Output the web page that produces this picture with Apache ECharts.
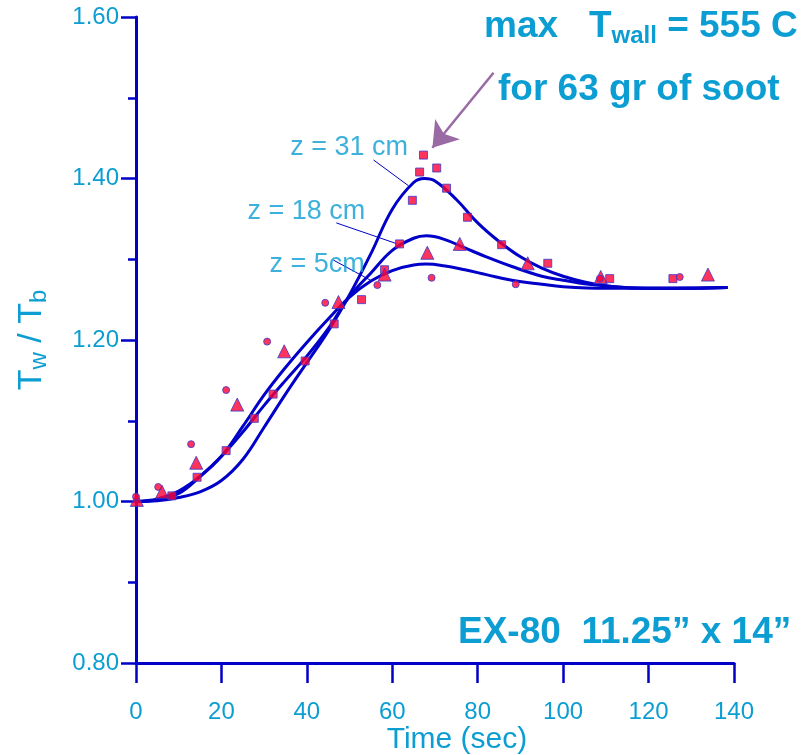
<!DOCTYPE html>
<html><head><meta charset="utf-8">
<script src="https://cdn.jsdelivr.net/npm/echarts@6/dist/echarts.min.js"></script>
<style>html,body{margin:0;padding:0;background:#fff}#c{width:812px;height:755px}</style>
</head><body><div id="c"></div>
<script>
// ---- data ----
const curve31 = [[0,1.000],[5,1.001],[10,1.005],[15,1.012],[20,1.026],[25,1.052],[30,1.092],[35,1.133],[40,1.172],[45,1.211],[50,1.256],[55,1.307],[60,1.362],[65,1.395],[67.5,1.400],[70,1.397],[75,1.374],[80,1.345],[85,1.322],[90,1.303],[95,1.289],[100,1.279],[105,1.272],[112,1.266],[120,1.264],[130,1.264],[138.5,1.265]];
const curve18 = [[0,1.000],[5,1.002],[10,1.010],[15,1.031],[20,1.056],[25,1.086],[30,1.119],[35,1.150],[40,1.180],[45,1.214],[50,1.254],[55,1.283],[60,1.311],[65,1.326],[68,1.329],[72,1.325],[77,1.314],[82,1.303],[88,1.291],[95,1.279],[100,1.274],[106,1.269],[112,1.266],[120,1.264],[130,1.264],[138.5,1.265]];
const curve5 = [[0,1.000],[5,1.003],[10,1.013],[15,1.031],[20,1.056],[25,1.093],[30,1.132],[35,1.166],[40,1.197],[45,1.226],[50,1.253],[55,1.273],[60,1.286],[65,1.293],[68,1.294],[72,1.292],[77,1.287],[82,1.281],[88,1.274],[95,1.269],[100,1.266],[110,1.264],[120,1.264],[138.5,1.265]];

const squareT = [8.4,14.3,21.1,27.7,32.1,39.6,46.4,52.8,58.2,61.7,64.7,66.4,67.3,70.4,72.7,77.6,85.6,96.4,110.9,125.7];
const squareV = [1.007,1.030,1.063,1.103,1.133,1.174,1.220,1.250,1.287,1.319,1.373,1.408,1.429,1.413,1.388,1.352,1.318,1.295,1.276,1.276];
const triangleT = [0.2,6.1,14.1,23.7,34.7,47.4,58.2,68.2,75.8,91.7,108.8,133.9];
const triangleV = [1.002,1.012,1.048,1.120,1.186,1.247,1.281,1.308,1.319,1.295,1.278,1.281];
const circleT = [0,5.2,12.9,21.1,30.7,44.3,56.5,69.2,88.9,108.6,127.3];
const circleV = [1.006,1.018,1.071,1.138,1.198,1.246,1.268,1.277,1.269,1.276,1.278];

const curveLabels = ['z = 31 cm','z = 18 cm','z = 5cm'];
const curveLabelAt = [[49.9,1.438],[39.9,1.3585],[42.4,1.293]];
const leaderLines = [[[55.6,1.423],[63.8,1.391]],[[46.9,1.345],[61.2,1.319]],[[46.2,1.299],[54.9,1.274]]];
const arrowFrom = [83.7,1.531], arrowTo = [69.4,1.438];

const xMin = 0, xMax = 140, xStep = 20;
const yMin = 0.8, yMax = 1.6, yStep = 0.2;

// ---- styles ----
const AX = '#0000c8';
const TXT = '#0c9ed2';
const FONT = "'Liberation Sans', Arial, Helvetica, sans-serif";
const zip = (a, b) => a.map((t, i) => [t, b[i]]);

const chart = echarts.init(document.getElementById('c'), null, {renderer: 'canvas'});
const lineSeries = (data) => ({
  type: 'line', data, smooth: 0.4, showSymbol: false, symbol: 'none',
  lineStyle: {color: AX, width: 3}, z: 3, silent: true
});
const markerSeries = (data, symbol, size) => ({
  type: 'scatter', data, symbol, symbolSize: size, z: 5,
  itemStyle: {color: '#ff0033', borderColor: '#3a3acc', borderWidth: 1}
});

chart.setOption({
  animation: false,
  backgroundColor: '#fff',
  textStyle: {fontFamily: FONT},
  title: [
    {text: '{a|max   T}{b|wall}{a| = 555 C}', left: 479, top: 1,
     textStyle: {rich: {
       a: {fontSize: 37, fontWeight: 'bold', color: TXT, fontFamily: FONT, lineHeight: 42},
       b: {fontSize: 24, fontWeight: 'bold', color: TXT, fontFamily: FONT, lineHeight: 42, padding: [18,0,0,0]}
     }}},
    {text: 'for 63 gr of soot', left: 493, top: 66,
     textStyle: {fontSize: 37, fontWeight: 'bold', color: TXT, fontFamily: FONT}},
    {text: 'EX-80  11.25\u201D x 14\u201D', left: 453, top: 609,
     textStyle: {fontSize: 37, fontWeight: 'bold', color: TXT, fontFamily: FONT}}
  ],
  grid: {left: 136, right: 78, top: 17, bottom: 92, containLabel: false, outerBoundsMode: 'none'},
  xAxis: {
    type: 'value', min: xMin, max: xMax, interval: xStep,
    name: 'Time (sec)', nameLocation: 'middle', nameGap: 62, nameMoveOverlap: false,
    nameTextStyle: {fontSize: 30, color: TXT, fontFamily: FONT, padding: [0,0,0,44]},
    axisLine: {show: true, onZero: false, lineStyle: {color: AX, width: 3}},
    axisTick: {show: true, inside: false, length: 20, lineStyle: {color: AX, width: 2.5}},
    axisLabel: {fontSize: 24, color: TXT, margin: 37, fontFamily: FONT},
    splitLine: {show: false}
  },
  yAxis: {
    type: 'value', min: yMin, max: yMax, interval: yStep,
    name: '{t|T}{s|w}{t| / T}{s|b}', nameLocation: 'middle', nameRotate: 90, nameGap: 84, nameMoveOverlap: false,
    nameTextStyle: {rich: {
      t: {fontSize: 34, color: TXT, fontFamily: FONT, lineHeight: 40},
      s: {fontSize: 24, color: TXT, fontFamily: FONT, lineHeight: 40, padding: [14,0,0,0]}
    }},
    axisLine: {show: true, onZero: false, lineStyle: {color: AX, width: 3}},
    axisTick: {show: true, inside: false, length: 15, lineStyle: {color: AX, width: 2.5}},
    minorTick: {show: true, splitNumber: 2, length: 8, lineStyle: {color: AX, width: 2.5}},
    axisLabel: {fontSize: 24, color: TXT, margin: 17, fontFamily: FONT, formatter: v => v.toFixed(2)},
    splitLine: {show: false}, minorSplitLine: {show: false}
  },
  series: [
    lineSeries(curve31),
    lineSeries(curve18),
    lineSeries(curve5),
    markerSeries(zip(squareT, squareV), 'rect', 8),
    markerSeries(zip(triangleT, triangleV), 'triangle', 13),
    markerSeries(zip(circleT, circleV), 'circle', 7),
    {
      type: 'scatter', symbolSize: 0, z: 6, silent: true,
      data: curveLabelAt.map((p, i) => ({value: p, name: curveLabels[i]})),
      label: {show: true, position: 'inside', formatter: p => p.name, fontSize: 27, color: TXT, fontFamily: FONT},
      markLine: {
        silent: true, symbol: ['none','none'], label: {show: false},
        lineStyle: {color: AX, width: 1, type: 'solid'},
        data: leaderLines.map(l => [{coord: l[0]}, {coord: l[1]}])
      }
    },
    {
      type: 'scatter', data: [], silent: true,
      markLine: {
        silent: true, symbol: ['none','arrow'], symbolSize: 24, label: {show: false},
        lineStyle: {color: '#9a6aa4', width: 2.5, type: 'solid'},
        data: [[{coord: arrowFrom}, {coord: arrowTo}]]
      }
    }
  ]
});
</script></body></html>
